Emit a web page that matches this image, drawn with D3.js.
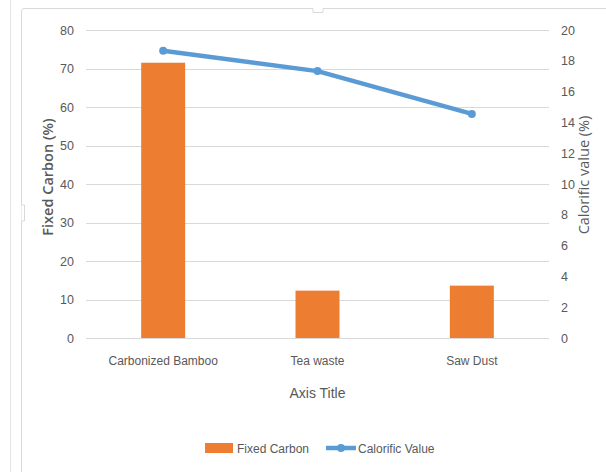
<!DOCTYPE html>
<html><head><meta charset="utf-8">
<script src="https://cdn.jsdelivr.net/npm/d3@7"></script>
<style>
html,body{margin:0;padding:0;background:#fff;}
svg{display:block;}
</style></head>
<body>
<script>
const categories = ["Carbonized Bamboo", "Tea waste", "Saw Dust"];
const fixedCarbon = [71.5, 12.3, 13.6];
const calorificValue = [18.65, 17.33, 14.55];
const leftTicks = [0, 10, 20, 30, 40, 50, 60, 70, 80];
const rightTicks = [0, 2, 4, 6, 8, 10, 12, 14, 16, 18, 20];
const seriesNames = ["Fixed Carbon", "Calorific Value"];
const axisTitles = {left: "Fixed Carbon (%)", right: "Calorific value (%)", x: "Axis Title"};

const W = 606, H = 472;
const svg = d3.select("body").append("svg").attr("width", W).attr("height", H);

const tickFont = "'Liberation Sans', Arial, sans-serif";
const titleFont = "'Open Sans', 'DejaVu Sans', sans-serif";
const textColor = "#595959";
const orange = "#ED7D31";
const blue = "#5B9BD5";

// frame (Excel-like chart border)
svg.append("line").attr("x1", 10.5).attr("x2", 10.5).attr("y1", 0).attr("y2", H)
  .attr("stroke", "#e4e4e4").attr("stroke-width", 1);
svg.append("path")
  .attr("d", `M21.5,${H} L21.5,11 Q21.5,8.5 24,8.5 L313,8.5 L313,12.5 L323,12.5 L323,8.5 L${W},8.5`)
  .attr("fill", "none").attr("stroke", "#d9d9d9").attr("stroke-width", 1);
svg.append("path")
  .attr("d", `M21.5,205 L24.5,205 L24.5,221 L21.5,221`)
  .attr("fill", "#fff").attr("stroke", "#d9d9d9").attr("stroke-width", 1);

const x0 = 86, x1 = 549, yTop = 30, yBot = 338;

const x = d3.scaleBand().domain(categories).range([x0, x1]).paddingInner(0.715).paddingOuter(0.3575);
const yL = d3.scaleLinear().domain([0, 80]).range([yBot, yTop]);
const yR = d3.scaleLinear().domain([0, 20]).range([yBot, yTop]);

// gridlines
svg.append("g").selectAll("line").data(leftTicks).join("line")
  .attr("x1", x0).attr("x2", x1)
  .attr("y1", d => Math.round(yL(d)) + 0.5).attr("y2", d => Math.round(yL(d)) + 0.5)
  .attr("stroke", "#d9d9d9").attr("stroke-width", 1);

// left axis
const gL = svg.append("g").attr("transform", `translate(${x0},0)`)
  .call(d3.axisLeft(yL).tickValues(leftTicks).tickSize(0).tickPadding(12));
gL.select(".domain").remove();
gL.selectAll("text").attr("font-family", tickFont).attr("font-size", 12.5).attr("fill", textColor);

// right axis
const gR = svg.append("g").attr("transform", `translate(${x1},0)`)
  .call(d3.axisRight(yR).tickValues(rightTicks).tickSize(0).tickPadding(12));
gR.select(".domain").remove();
gR.selectAll("text").attr("font-family", tickFont).attr("font-size", 12.5).attr("fill", textColor);

// bottom axis
const gB = svg.append("g").attr("transform", `translate(0,${yBot})`)
  .call(d3.axisBottom(x).tickSize(0).tickPadding(18));
gB.select(".domain").remove();
gB.selectAll("text").attr("font-family", tickFont).attr("font-size", 12).attr("fill", textColor);

// bars
svg.append("g").selectAll("rect").data(categories).join("rect")
  .attr("x", d => x(d)).attr("width", x.bandwidth())
  .attr("y", (d, i) => yL(fixedCarbon[i]))
  .attr("height", (d, i) => yBot - yL(fixedCarbon[i]))
  .attr("fill", orange);

// line
const cx = d => x(d) + x.bandwidth() / 2;
const line = d3.line().x((d, i) => cx(categories[i])).y(d => yR(d));
svg.append("path").datum(calorificValue).attr("d", line)
  .attr("fill", "none").attr("stroke", blue).attr("stroke-width", 4.5).attr("stroke-linejoin", "round");
svg.append("g").selectAll("circle").data(calorificValue).join("circle")
  .attr("cx", (d, i) => cx(categories[i])).attr("cy", d => yR(d)).attr("r", 4)
  .attr("fill", blue);

// axis titles
svg.append("text").attr("transform", `translate(53,177) rotate(-90)`)
  .attr("text-anchor", "middle").attr("font-family", titleFont).attr("font-size", 14.5)
  .attr("font-weight", 600).attr("fill", textColor).text(axisTitles.left);
svg.append("text").attr("transform", `translate(589,175) rotate(-90)`)
  .attr("text-anchor", "middle").attr("font-family", titleFont).attr("font-size", 14.5)
  .attr("fill", textColor).text(axisTitles.right);
svg.append("text").attr("x", (x0 + x1) / 2).attr("y", 398)
  .attr("text-anchor", "middle").attr("font-family", tickFont).attr("font-size", 14)
  .attr("fill", textColor).text(axisTitles.x);

// legend
const lg = svg.append("g");
lg.append("rect").attr("x", 205).attr("y", 443).attr("width", 28).attr("height", 10).attr("fill", orange);
lg.append("text").attr("x", 237).attr("y", 452.5).attr("font-family", tickFont).attr("font-size", 12)
  .attr("fill", textColor).text(seriesNames[0]);
lg.append("line").attr("x1", 326).attr("x2", 356).attr("y1", 448).attr("y2", 448)
  .attr("stroke", blue).attr("stroke-width", 4.5);
lg.append("circle").attr("cx", 341).attr("cy", 448).attr("r", 4).attr("fill", blue);
lg.append("text").attr("x", 358).attr("y", 452.5).attr("font-family", tickFont).attr("font-size", 12)
  .attr("fill", textColor).text(seriesNames[1]);
</script>
</body></html>
